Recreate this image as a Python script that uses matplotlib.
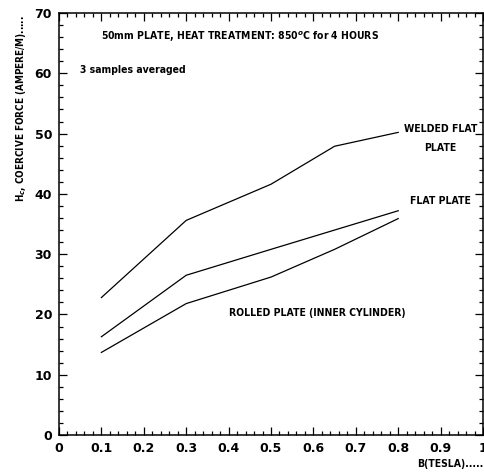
import matplotlib
matplotlib.use("Agg")
import matplotlib.pyplot as plt
from matplotlib.ticker import MultipleLocator

# coercive force vs flux density, 50mm plate
b_tesla = [0.1, 0.3, 0.5, 0.65, 0.8]
welded_flat = [22.8, 35.6, 41.6, 47.9, 50.2]
flat_plate = [16.3, 26.5, 30.8, 34.0, 37.2]
rolled_plate = [13.7, 21.8, 26.2, 30.8, 35.9]

x_ticks = [0, 0.1, 0.2, 0.3, 0.4, 0.5, 0.6, 0.7, 0.8, 0.9, 1]
x_tick_labels = ["0", "0.1", "0.2", "0.3", "0.4", "0.5", "0.6", "0.7", "0.8", "0.9", "1"]
y_ticks = [0, 10, 20, 30, 40, 50, 60, 70]

plt.rcParams['font.family'] = ['DejaVu Sans']
plt.rcParams['font.weight'] = 'bold'

fig = plt.figure(figsize=(4.85, 4.73), dpi=100)
ax = fig.add_axes([0.1216, 0.0803, 0.8743, 0.8922])

for series in (welded_flat, flat_plate, rolled_plate):
    ax.plot(b_tesla, series, color='black', linewidth=0.9)

ax.set_xlim(0, 1)
ax.set_ylim(0, 70)
ax.set_xticks(x_ticks)
ax.set_xticklabels(x_tick_labels)
ax.set_yticks(y_ticks)
ax.xaxis.set_minor_locator(MultipleLocator(0.02))
ax.yaxis.set_minor_locator(MultipleLocator(2))
ax.tick_params(which='both', direction='in', top=True, right=True, width=0.9)
ax.tick_params(which='major', length=6, labelsize=9, pad=5)
ax.tick_params(which='minor', length=3)
for lbl in ax.get_xticklabels() + ax.get_yticklabels():
    lbl.set_fontweight('bold')
for sp in ax.spines.values():
    sp.set_linewidth(1.1)

note = dict(fontsize=7.5, fontweight='bold', fontstretch='condensed')
ax.text(0.1, 66.0, "50mm PLATE, HEAT TREATMENT: 850$^{o}$C for 4 HOURS", va='center', **note)
ax.text(0.05, 60.6, "3 samples averaged", va='center', **note)
ax.text(0.9, 50.8, "WELDED FLAT", ha='center', va='center', **note)
ax.text(0.9, 47.6, "PLATE", ha='center', va='center', **note)
ax.text(0.9, 38.8, "FLAT PLATE", ha='center', va='center', **note)
ax.text(0.4, 20.3, "ROLLED PLATE (INNER CYLINDER)", va='center', **note)

fig.text(0.9959, 0.008, "B(TESLA).....", ha='right', va='bottom', **note)
fig.text(0.043, 0.968, "H$_c$, COERCIVE FORCE (AMPERE/M).....", rotation=90,
         ha='center', va='top', fontsize=7.1, fontweight='bold', fontstretch='condensed')

fig.savefig("out.png", dpi=100)
